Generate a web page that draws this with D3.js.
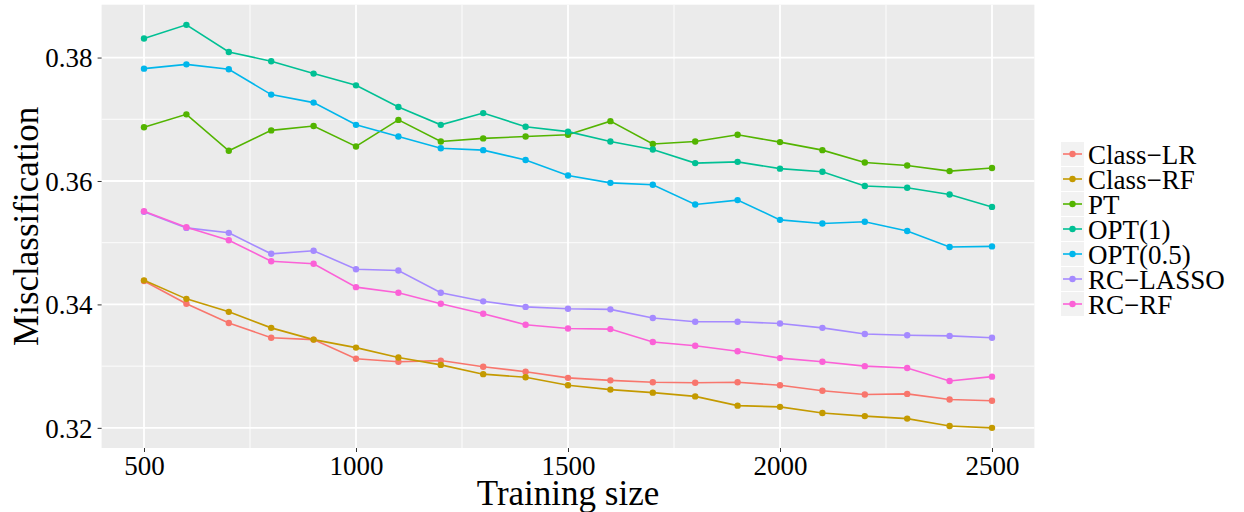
<!DOCTYPE html>
<html>
<head>
<meta charset="utf-8">
<script src="https://cdn.jsdelivr.net/npm/d3@7"></script>
<style>
  html, body { margin: 0; padding: 0; background: #ffffff; }
  svg { display: block; }
  text { font-family: "Liberation Serif", "DejaVu Serif", serif; fill: #000; }
</style>
</head>
<body>
<svg id="chart" width="1244" height="512"></svg>
<script>
// ---- data ----
const trainingSize = [500, 600, 700, 800, 900, 1000, 1100, 1200, 1300, 1400, 1500, 1600, 1700, 1800, 1900, 2000, 2100, 2200, 2300, 2400, 2500];
const seriesNames = ["Class\u2212LR", "Class\u2212RF", "PT", "OPT(1)", "OPT(0.5)", "RC\u2212LASSO", "RC\u2212RF"];
const classLR = [0.3438, 0.3401, 0.3370, 0.3346, 0.3343, 0.3312, 0.3307, 0.3309, 0.3299, 0.3291, 0.3281, 0.3277, 0.3274, 0.3273, 0.3274, 0.3269, 0.3260, 0.3254, 0.3255, 0.3246, 0.3244];
const classRF = [0.3439, 0.3409, 0.3388, 0.3362, 0.3343, 0.3330, 0.3314, 0.3302, 0.3287, 0.3282, 0.3269, 0.3262, 0.3257, 0.3251, 0.3236, 0.3234, 0.3224, 0.3219, 0.3215, 0.3203, 0.3200];
const pt      = [0.3687, 0.3708, 0.3649, 0.3682, 0.3689, 0.3656, 0.3699, 0.3664, 0.3669, 0.3672, 0.3675, 0.3697, 0.3660, 0.3664, 0.3675, 0.3663, 0.3650, 0.3630, 0.3625, 0.3616, 0.3621];
const opt1    = [0.3831, 0.3853, 0.3809, 0.3794, 0.3774, 0.3755, 0.3720, 0.3691, 0.3710, 0.3688, 0.3680, 0.3664, 0.3651, 0.3629, 0.3631, 0.3620, 0.3615, 0.3592, 0.3589, 0.3578, 0.3558];
const opt05   = [0.3782, 0.3789, 0.3781, 0.3740, 0.3727, 0.3691, 0.3672, 0.3653, 0.3650, 0.3634, 0.3609, 0.3597, 0.3594, 0.3562, 0.3569, 0.3537, 0.3531, 0.3534, 0.3519, 0.3493, 0.3494];
const rcLasso = [0.3550, 0.3524, 0.3516, 0.3482, 0.3487, 0.3457, 0.3455, 0.3419, 0.3405, 0.3396, 0.3393, 0.3392, 0.3378, 0.3372, 0.3372, 0.3369, 0.3362, 0.3352, 0.3350, 0.3349, 0.3346];
const rcRF    = [0.3551, 0.3525, 0.3504, 0.3470, 0.3466, 0.3428, 0.3419, 0.3401, 0.3385, 0.3367, 0.3361, 0.3360, 0.3339, 0.3333, 0.3324, 0.3313, 0.3307, 0.3300, 0.3297, 0.3276, 0.3283];
const seriesValues = [classLR, classRF, pt, opt1, opt05, rcLasso, rcRF];
const colors = ["#F8766D", "#C49A00", "#53B400", "#00C094", "#00B6EB", "#A58AFF", "#FB61D7"];
const xTicks = [500, 1000, 1500, 2000, 2500];
const xMinor = [750, 1250, 1750, 2250];
const yTicks = [0.32, 0.34, 0.36, 0.38];
const yMinor = [0.33, 0.35, 0.37];
const yTickLabels = ["0.32", "0.34", "0.36", "0.38"];
const xTitle = "Training size";
const yTitle = "Misclassification";

// ---- layout ----
const svg = d3.select("#chart");
const panel = { left: 101.6, right: 1034.4, top: 4.7, bottom: 448 };

const allVals = seriesValues.flat();
const yMin = d3.min(allVals), yMax = d3.max(allVals);
const yPad = (yMax - yMin) * 0.05;
const x = d3.scaleLinear().domain([400, 2600]).range([panel.left, panel.right]);
const y = d3.scaleLinear().domain([yMin - yPad, yMax + yPad]).range([panel.bottom, panel.top]);

// panel background
svg.append("rect")
  .attr("x", panel.left).attr("y", panel.top)
  .attr("width", panel.right - panel.left).attr("height", panel.bottom - panel.top)
  .attr("fill", "#EBEBEB");

const grid = svg.append("g");
// minor grid
grid.selectAll("line.ymin").data(yMinor).enter().append("line")
  .attr("x1", panel.left).attr("x2", panel.right)
  .attr("y1", d => y(d)).attr("y2", d => y(d))
  .attr("stroke", "#fff").attr("stroke-width", 0.9);
grid.selectAll("line.xmin").data(xMinor).enter().append("line")
  .attr("y1", panel.top).attr("y2", panel.bottom)
  .attr("x1", d => x(d)).attr("x2", d => x(d))
  .attr("stroke", "#fff").attr("stroke-width", 0.9);
// major grid
grid.selectAll("line.ymaj").data(yTicks).enter().append("line")
  .attr("x1", panel.left).attr("x2", panel.right)
  .attr("y1", d => y(d)).attr("y2", d => y(d))
  .attr("stroke", "#fff").attr("stroke-width", 1.8);
grid.selectAll("line.xmaj").data(xTicks).enter().append("line")
  .attr("y1", panel.top).attr("y2", panel.bottom)
  .attr("x1", d => x(d)).attr("x2", d => x(d))
  .attr("stroke", "#fff").attr("stroke-width", 1.8);

// axes
const xAxis = d3.axisBottom(x).tickValues(xTicks).tickSize(4).tickPadding(4).tickFormat(d3.format("d"));
const gx = svg.append("g").attr("transform", `translate(0,${panel.bottom})`).call(xAxis);
gx.select(".domain").remove();
gx.selectAll(".tick line").attr("stroke", "#333").attr("stroke-width", 1);
gx.selectAll(".tick text").attr("font-size", 27).attr("font-family", "Liberation Serif").attr("fill", "#000")
  .attr("dy", "0.72em");

const yAxis = d3.axisLeft(y).tickValues(yTicks).tickSize(4).tickPadding(5).tickFormat((d, i) => yTickLabels[i]);
const gy = svg.append("g").attr("transform", `translate(${panel.left},0)`).call(yAxis);
gy.select(".domain").remove();
gy.selectAll(".tick line").attr("stroke", "#333").attr("stroke-width", 1);
gy.selectAll(".tick text").attr("font-size", 27).attr("font-family", "Liberation Serif").attr("fill", "#000")
  .attr("dy", "0.34em");

// titles
svg.append("text")
  .attr("x", (panel.left + panel.right) / 2).attr("y", 505)
  .attr("text-anchor", "middle").attr("font-size", 35)
  .text(xTitle);
svg.append("text")
  .attr("transform", `translate(38,${(panel.top + panel.bottom) / 2}) rotate(-90)`)
  .attr("text-anchor", "middle").attr("font-size", 35)
  .text(yTitle);

// series
const line = d3.line().x((d, i) => x(trainingSize[i])).y(d => y(d));
const marks = svg.append("g");
seriesValues.forEach((vals, k) => {
  marks.append("path").datum(vals)
    .attr("d", line).attr("fill", "none")
    .attr("stroke", colors[k]).attr("stroke-width", 1.6);
});
seriesValues.forEach((vals, k) => {
  marks.selectAll(null).data(vals).enter().append("circle")
    .attr("cx", (d, i) => x(trainingSize[i])).attr("cy", d => y(d))
    .attr("r", 3.2).attr("fill", colors[k]);
});

// legend
const legend = svg.append("g").attr("transform", "translate(1061,141.5)");
const rowH = 25;
seriesNames.forEach((name, k) => {
  const g = legend.append("g").attr("transform", `translate(0,${k * rowH})`);
  g.append("rect").attr("x", 0).attr("y", 0.5).attr("width", 23).attr("height", rowH - 1)
    .attr("fill", "#F2F2F2");
  g.append("line").attr("x1", 2).attr("x2", 21).attr("y1", rowH / 2).attr("y2", rowH / 2)
    .attr("stroke", colors[k]).attr("stroke-width", 1.6);
  g.append("circle").attr("cx", 11.5).attr("cy", rowH / 2).attr("r", 3.2).attr("fill", colors[k]);
  g.append("text").attr("x", 27).attr("y", rowH / 2).attr("dy", "0.36em")
    .attr("font-size", 27).text(name);
});
</script>
</body>
</html>
